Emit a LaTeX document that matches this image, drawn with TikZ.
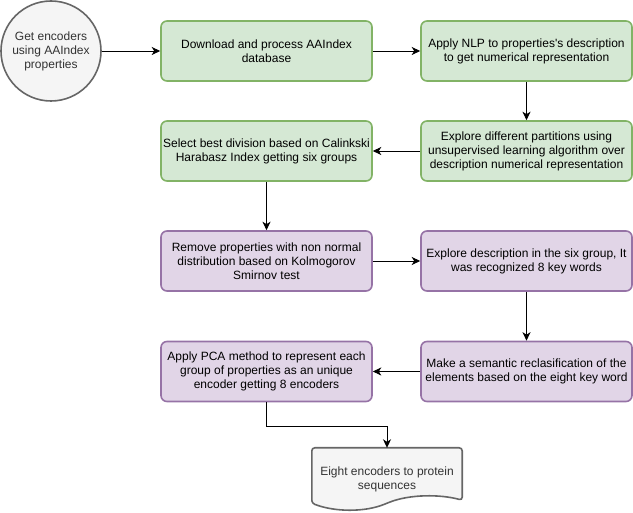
\documentclass[tikz,border=0pt]{standalone}
\usepackage{fontspec}
\setmainfont{Liberation Sans}[Ligatures=TeXOff]
\usetikzlibrary{arrows.meta,calc,backgrounds}
\definecolor{greenfill}{HTML}{D5E8D4}
\definecolor{greenline}{HTML}{82B366}
\definecolor{purplefill}{HTML}{E1D5E7}
\definecolor{purpleline}{HTML}{9673A6}
\definecolor{greyfill}{HTML}{F5F5F5}
\definecolor{greyline}{HTML}{666666}
\definecolor{greytext}{HTML}{333333}
\tikzset{
  box/.style={
      draw,
      rectangle,
      rounded corners=6pt,
      line width=1.6pt,
      minimum width=211pt,
      minimum height=60pt,
      inner sep=2pt,
      align=center,
      font=\fontsize{12}{14}\selectfont,
  },
  greenbox/.style={
      box,
      fill=greenfill,
      draw=greenline
  },
  purplebox/.style={
      box,
      fill=purplefill,
      draw=purpleline
  },
  startnode/.style={
      draw=greyline,
      fill=greyfill,
      circle,
      line width=1.6pt,
      minimum size=100pt,
      inner sep=0pt,
      align=center,
      text=greytext,
      font=\fontsize{12}{14}\selectfont
  },
  docnode/.style={
      rectangle,
      minimum width=150pt,
      minimum height=58pt,
      inner sep=0pt,
      align=center,
      text=greytext,
      font=\fontsize{12}{14}\selectfont
  },
  docshape/.style={
      draw=greyline,
      fill=greyfill,
      line width=1.6pt,
      rounded corners=3pt
  },
  arrow/.style={
      -{Stealth[length=8.5pt,width=8pt,inset=2.5pt]},
      line width=0.9pt
  }
}
\begin{document}
\begin{tikzpicture}[x=1pt,y=-1pt]
    \useasboundingbox (0,0) rectangle (633,513);
    % first row
    \node[startnode] (start) at (51,51) {Get encoders\\using AAIndex\\properties};
    \node[greenbox] (download) at (266.5,51) {Download and process AAIndex\\database};
    \node[greenbox] (nlp) at (526.5,51) {Apply NLP to properties's description\\to get numerical representation};
    % second row
    \node[greenbox] (partition) at (526.5,151) {Explore different partitions using\\unsupervised learning algorithm over\\description numerical representation};
    \node[greenbox] (select) at (266.5,151) {Select best division based on Calinkski\\Harabasz Index getting six groups};
    % third row
    \node[purplebox] (remove) at (266.5,261) {Remove properties with non normal\\distribution based on Kolmogorov\\Smirnov test};
    \node[purplebox] (keywords) at (526.5,261) {Explore description in the six group, It\\was recognized 8 key words};
    % fourth row
    \node[purplebox] (reclass) at (526.5,371.5) {Make a semantic reclasification of the\\elements based on the eight key word};
    \node[purplebox] (pca) at (266.5,371.5) {Apply PCA method to represent each\\group of properties as an unique\\encoder getting 8 encoders};
    % result
    \node[docnode] (doc) at (387,479) {Eight encoders to protein\\sequences};
    \begin{scope}[on background layer]
        \path[docshape] ($(doc.south west)+(0,-5)$) -- ($(doc.north west)+(0,-2)$)
            -- ($(doc.north east)+(0,-2)$) -- ($(doc.south east)+(0,-8)$)
            .. controls ($(doc.south east)+(-22,-14)$) and ($(doc.south)+(23,-14)$) .. ($(doc.south)+(0,-5)$)
            .. controls ($(doc.south)+(-22,4)$) and ($(doc.south west)+(23,4)$) .. ($(doc.south west)+(0,-5)$)
            -- cycle;
    \end{scope}
    \coordinate (doctop) at ($(doc.north)+(0,-2)$);
    % connectors
    \draw[arrow] (start) -- (download);
    \draw[arrow] (download) -- (nlp);
    \draw[arrow] (nlp) -- (partition);
    \draw[arrow] (partition) -- (select);
    \draw[arrow] (select) -- (remove);
    \draw[arrow] (remove) -- (keywords);
    \draw[arrow] (keywords) -- (reclass);
    \draw[arrow] (reclass) -- (pca);
    \draw[arrow] (pca.south) -- ++(0,24) -| (doctop);
\end{tikzpicture}
\end{document}
